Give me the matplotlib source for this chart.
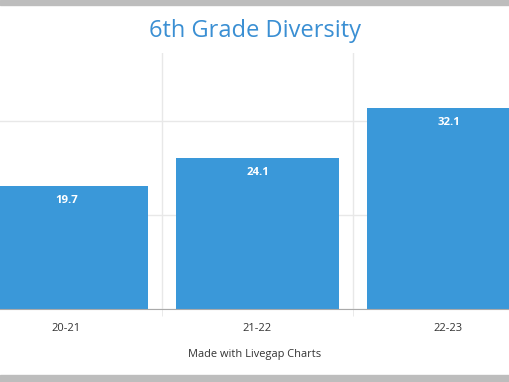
import numpy as np
import matplotlib.pyplot as plt
from matplotlib.patches import Rectangle

plt.rcParams['font.family'] = ['Open Sans', 'DejaVu Sans']

years = ['20-21', '21-22', '22-23']
values = [19.7, 24.1, 32.1]

bar_color = '#3a98d9'
title_color = '#3a8fd3'

fig = plt.figure(figsize=(5.1, 3.82), dpi=100)
fig.patch.set_facecolor('white')

# gray frame strips at top and bottom
fig.patches.append(Rectangle((0, 1 - 5 / 382), 1, 5 / 382, transform=fig.transFigure,
                             color='#bdbdbd', zorder=0))
fig.patches.append(Rectangle((0, 0), 1, 7 / 382, transform=fig.transFigure,
                             color='#bdbdbd', zorder=0))

ax = fig.add_axes([-29 / 510, 73 / 382, 573 / 510, 256 / 382])
x = np.arange(len(years))
ax.bar(x, values, width=0.855, color=bar_color, zorder=2)

for xi, v in zip(x, values):
    ax.annotate(f'{v}', (xi, v), xytext=(0, -10.5), textcoords='offset points',
                ha='center', va='center', color='white', fontsize=8.2,
                fontweight='bold', zorder=3)

ax.set_xlim(-0.5, 2.5)
ax.set_ylim(0, 40.9)

ax.set_yticks([0, 15, 30])
ax.set_xticks(x)
ax.set_xticklabels(years, fontsize=8, color='#333333')
ax.set_xticks([0.5, 1.5], minor=True)
ax.tick_params(axis='x', which='major', length=0, pad=10)
ax.tick_params(axis='x', which='minor', length=5, color='#e6e6e6')
ax.tick_params(axis='y', length=0, labelleft=False)

ax.grid(axis='y', color='#e8e8e8', linewidth=1, zorder=0)
ax.grid(axis='x', which='minor', color='#e8e8e8', linewidth=1, zorder=0)
ax.grid(axis='x', which='major', visible=False)

for side in ['top', 'right', 'left']:
    ax.spines[side].set_visible(False)
ax.spines['bottom'].set_color('#aaaaaa')
ax.spines['bottom'].set_zorder(4)

fig.text(0.5, 1 - 31 / 382, '6th Grade Diversity', ha='center', va='center',
         fontsize=17, color=title_color)
fig.text(0.5, 1 - 354 / 382, 'Made with Livegap Charts', ha='center', va='center',
         fontsize=7.9, color='#333333')

plt.savefig('out.png', dpi=100)
